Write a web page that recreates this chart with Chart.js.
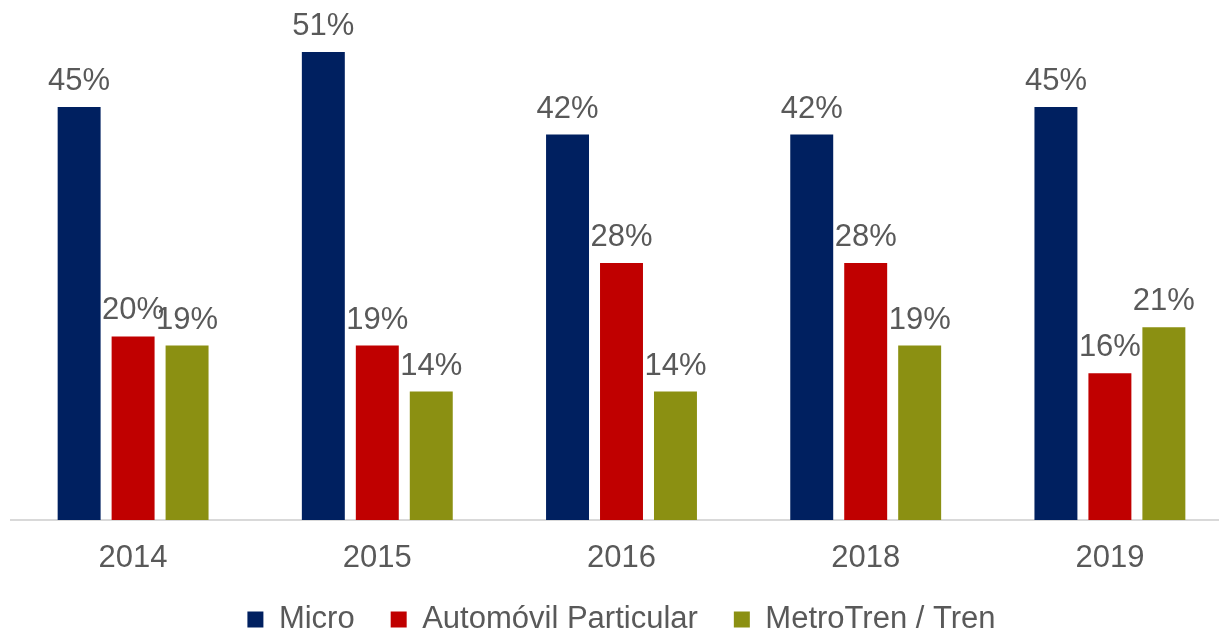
<!DOCTYPE html>
<html>
<head>
<meta charset="utf-8">
<script src="https://cdn.jsdelivr.net/npm/chart.js@4/dist/chart.umd.min.js"></script>
<style>
  html, body { margin: 0; padding: 0; background: #fff; overflow: hidden; }
  #wrap { width: 1219px; height: 630px; overflow: hidden; }
</style>
</head>
<body>
<div id="wrap"><canvas id="barChart" width="1232" height="630"></canvas></div>
<script>
// Data
var years = ["2014", "2015", "2016", "2018", "2019"];
var micro = [45, 51, 42, 42, 45];
var automovil = [20, 19, 28, 28, 16];
var metroTren = [19, 14, 14, 19, 21];

var textColor = "#595959";
var fontFamily = "'Liberation Sans', Arial, sans-serif";

// Draws the percent labels above each bar
var valueLabels = {
    id: "valueLabels",
    afterDatasetsDraw: function (chart) {
        var ctx = chart.ctx;
        ctx.save();
        ctx.font = "31px " + fontFamily;
        ctx.fillStyle = textColor;
        ctx.textAlign = "center";
        ctx.textBaseline = "alphabetic";
        chart.data.datasets.forEach(function (ds, i) {
            chart.getDatasetMeta(i).data.forEach(function (bar, j) {
                ctx.fillText(ds.data[j] + "%", bar.x, bar.y - 17);
            });
        });
        ctx.restore();
    }
};

var ctxBar = document.getElementById("barChart").getContext("2d");

var myBarChart = new Chart(ctxBar, {
    type: "bar",
    data: {
        labels: years,
        datasets: [
            { label: "Micro", data: micro, backgroundColor: "#002060" },
            { label: "Automóvil Particular", data: automovil, backgroundColor: "#C00000" },
            { label: "MetroTren / Tren", data: metroTren, backgroundColor: "#8B9012" }
        ]
    },
    options: {
        responsive: false,
        animation: false,
        datasets: {
            bar: { categoryPercentage: 0.663, barPercentage: 0.796 }
        },
        layout: {
            padding: { top: 6, left: 11, right: 0, bottom: 0 }
        },
        scales: {
            x: {
                grid: { display: false, drawTicks: false },
                border: { display: true, color: "#D9D9D9", width: 2 },
                ticks: {
                    color: textColor,
                    font: { family: fontFamily, size: 31 },
                    padding: 20
                },
                afterFit: function (scale) {
                    scale.height = 48;
                }
            },
            y: {
                display: false,
                min: 0,
                max: 56
            }
        },
        plugins: {
            legend: {
                position: "bottom",
                maxHeight: 62,
                labels: {
                    color: textColor,
                    font: { family: fontFamily, size: 31 },
                    boxWidth: 16,
                    boxHeight: 16,
                    padding: 36
                }
            },
            tooltip: { enabled: false }
        }
    },
    plugins: [valueLabels]
});
</script>
</body>
</html>
